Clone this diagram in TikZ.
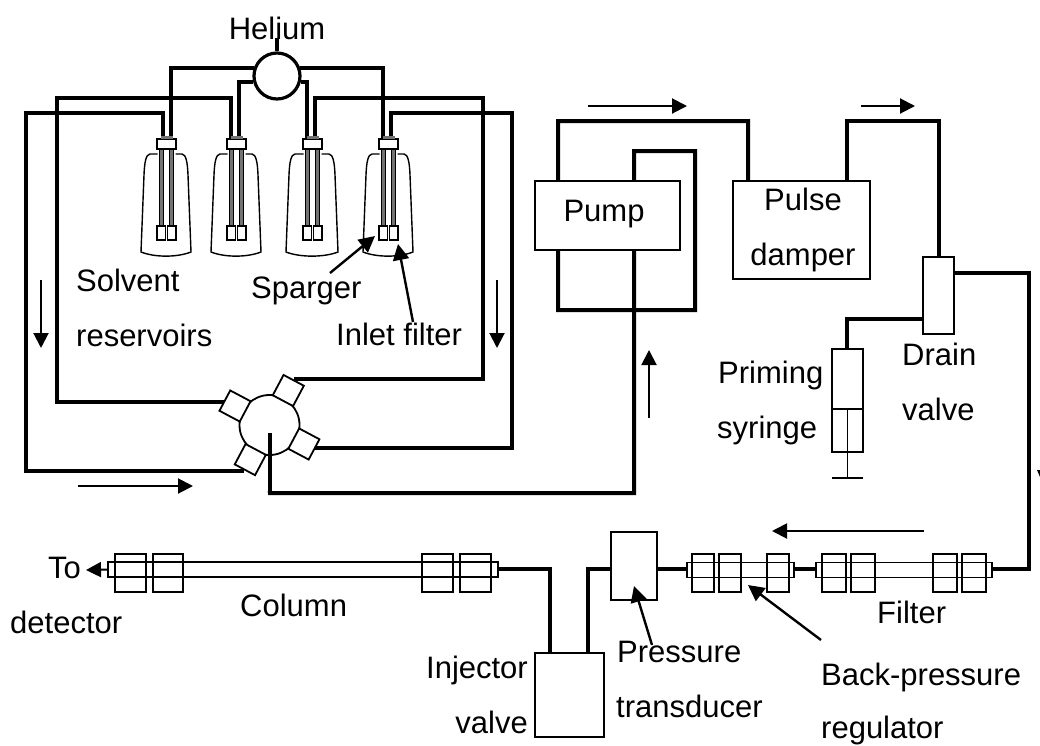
\documentclass[tikz,border=0pt]{standalone}
\usepackage{fontspec}
\setmainfont{Liberation Sans}
\usetikzlibrary{arrows.meta}
\pgfdeclarelayer{tubes}
\pgfsetlayers{tubes,main}
\tikzset{
  tube/.style={line width=4pt,line join=miter,line cap=butt},
  thin box/.style={draw=black,line width=1.8pt,inner sep=0pt,fill=white,rectangle},
  ferrule/.style={draw=black,line width=1.6pt,inner sep=0pt,rectangle,minimum height=38pt},
  ftube/.style={draw=black,line width=1.6pt,inner sep=0pt,rectangle,minimum height=15pt},
  port/.style={thin box,minimum width=23pt,minimum height=23pt,rotate=-28},
  flow/.style={line width=2pt,-{Triangle[length=15pt,width=15pt]}},
  pointer/.style={line width=2.4pt,-{Triangle[length=16pt,width=16pt]}},
  lab/.style={inner sep=0pt,font=\fontsize{31}{31}\selectfont},
  bottle/.style={line width=1.4pt},
}
\begin{document}
\begin{tikzpicture}[x=1pt,y=-1pt]
\useasboundingbox (0,0) rectangle (1040,745);
% --- boxes
\node[circle,draw=black,line width=3.2pt,inner sep=0pt,minimum size=46pt,fill=white] (hub) at (277,76) {};
\coordinate (heliumIn) at (277,38);
\node[thin box,minimum width=145pt,minimum height=69pt] (pump) at (607.5,215.5) {};
\node[thin box,minimum width=137pt,minimum height=98pt] (damper) at (801.5,230) {};
\node[thin box,minimum width=31pt,minimum height=77pt] (drain) at (938.5,295.5) {};
\node[thin box,minimum width=31pt,minimum height=103pt] (syringe) at (847.5,400.5) {};
\node[thin box,minimum width=69pt,minimum height=84pt] (injector) at (569.5,695) {};
\node[thin box,minimum width=46pt,minimum height=68pt] (transducer) at (634,566) {};
% --- bottles
\foreach \n/\cx/\ia/\ib/\bl/\br in {A/166.5/161/171/141/191,B/236.5/231/241/211/261,C/312.5/307/317/286/338,D/388.5/383/393/363/413}{
  \draw[bottle,fill=white] (\cx-9,154) -- (\bl+9,154) .. controls (\bl+5,154.5) and (\bl+3.5,162) .. (\bl+3,175)
     -- (\bl,252) .. controls (\bl+14,257.5) and (\br-14,257.5) .. (\br,252)
     -- (\br-3,175) .. controls (\br-3.5,162) and (\br-5,154.5) .. (\br-9,154) -- (\cx+9,154);
  \draw[line width=1pt,fill=black!55] (\ia-2,148) rectangle (\ia+2,226);
  \draw[line width=1pt,fill=black!55] (\ib-2,148) rectangle (\ib+2,226);
  \node[thin box,minimum width=19pt,minimum height=10pt] (cap\n) at (\cx,144) {};
  \fill[black!55] (\cx-6,136) rectangle (\cx+6,139);
  \node[thin box,minimum width=8.5pt,minimum height=13.5pt] (sp\n) at (\cx-5.2,233) {};
  \node[thin box,minimum width=8.5pt,minimum height=13.5pt] (fl\n) at (\cx+5.2,233) {};
}
% --- valve
\node[circle,draw=black,line width=1.8pt,inner sep=0pt,minimum size=60pt,fill=white] (valve) at (269.5,425) {};
\node[port] (p1) at (288.3,390.5) {};
\node[port] (p2) at (235,406) {};
\node[port] (p3) at (303.9,444) {};
\node[port] (p4) at (250.3,459.6) {};
% --- column, regulator, filter
\node[ftube,minimum width=390pt] (column) at (303,569.5) {};
\node[ferrule,minimum width=31pt] (c1) at (130.5,573) {};
\node[ferrule,minimum width=30pt] (c2) at (168,573) {};
\node[ferrule,minimum width=31pt] (c3) at (437.5,573) {};
\node[ferrule,minimum width=31pt] (c4) at (475.5,573) {};
\node[ftube,minimum width=107pt] (reg) at (740.5,570) {};
\node[ferrule,minimum width=22pt] (r1) at (703,573) {};
\node[ferrule,minimum width=22pt] (r2) at (730,573) {};
\node[ferrule,minimum width=22pt] (r3) at (778,573) {};
\node[ftube,minimum width=176pt] (filter) at (904,570) {};
\node[ferrule,minimum width=24pt] (f1) at (834,573) {};
\node[ferrule,minimum width=24pt] (f2) at (863,573) {};
\node[ferrule,minimum width=24pt] (f3) at (945,573) {};
\node[ferrule,minimum width=24pt] (f4) at (974,573) {};
% --- tubes behind everything
\begin{pgfonlayer}{tubes}
\fill[white] (0,0) rectangle (1040,745);
\draw[tube] (heliumIn) -- (hub.north);
\draw[tube] (hub.160) -| (capA.north -| 170.6,0);
\draw[tube] (hub.20) -| (capD.north -| 383,0);
\draw[tube] (hub.195) -| (capB.north -| 239,0);
\draw[tube] (hub.345) -| (capC.north -| 307,0);
\draw[tube] (capB.north -| 231,0) |- (57,98) |- (p2.west |- 0,402);
\draw[tube] (capA.north -| 163,0) |- (26,113) |- (p4.south |- 0,470.5);
\draw[tube] (capC.north -| 315,0) |- (483,98) |- (p1.north |- 0,379);
\draw[tube] (capD.north -| 391,0) |- (512,113) |- (p3.east |- 0,448);
\draw[tube] (valve.center |- 0,491) -- (270,493) -- (634,493) -- (634,151) -- (695,151) -- (695,310) -- (558,310) -- (558,121) -- (748,121) -- (damper.north -| 748,0);
\draw[tube] (damper.north -| 847,0) |- (939,121) -- (drain.north -| 939,0);
\draw[tube] (drain.east |- 0,273) -| (1029,569) -- (filter.east |- 0,569);
\draw[tube] (drain.west |- 0,319) -| (syringe.north -| 847,0);
\draw[tube] (column.east |- 0,569) -| (injector.north -| 550,0);
\draw[tube] (injector.north -| 588,0) |- (transducer.west |- 0,569);
\draw[tube] (transducer.east |- 0,569) -- (reg.west |- 0,569);
\draw[tube] (reg.east |- 0,569) -- (filter.west |- 0,569);
\end{pgfonlayer}
% valve outlet, on top of the rotor
\coordinate (valveOut) at (270,433);
\draw[line width=3.4pt] (valveOut) -- (270,494.5);
% --- syringe plunger
\coordinate (plungerTop) at (832,409);
\draw[line width=1.8pt] (syringe.west |- plungerTop) -- (syringe.east |- plungerTop);
\draw[line width=1.8pt] (847.5,409) -- (847.5,478);
\draw[line width=1.8pt] (832,478) -- (863,478);
% --- flow arrows
\draw[flow] (78,486) -- (193,486);
\draw[flow] (41,280) -- (41,348);
\draw[flow] (497,280) -- (497,348);
\draw[flow] (649,418) -- (649,350);
\draw[flow] (588,106) -- (687,106);
\draw[flow] (861,106) -- (915,106);
\draw[flow] (924,531) -- (772,531);
\fill (1037,470) -- (1040,470) -- (1040,477) -- cycle;
% --- labels
\node[lab,anchor=base] (lHelium) at (277,39) {Helium};
\node[lab,anchor=base] (lPump) at (604,221) {Pump};
\node[lab,anchor=base] (lPulse) at (803,210) {Pulse};
\node[lab,anchor=base] (lDamper) at (803,265) {damper};
\node[lab,anchor=base west] (lSolvent) at (76,291) {Solvent};
\node[lab,anchor=base west] (lRes) at (76,346) {reservoirs};
\node[lab,anchor=base west] (lSparger) at (251,298) {Sparger};
\node[lab,anchor=base west] (lInlet) at (336,345) {Inlet filter};
\node[lab,anchor=base west] (lPriming) at (718,383) {Priming};
\node[lab,anchor=base west] (lSyringe) at (717,438) {syringe};
\node[lab,anchor=base west] (lDrain) at (902,365) {Drain};
\node[lab,anchor=base west] (lValve) at (902,420) {valve};
\node[lab,anchor=base west] (lTo) at (48,578) {To};
\node[lab,anchor=base west] (lDet) at (10,633) {detector};
\node[lab,anchor=base west] (lColumn) at (240,616) {Column};
\node[lab,anchor=base west] (lFilter) at (877,623) {Filter};
\node[lab,anchor=base east] (lInj) at (528,678) {Injector};
\node[lab,anchor=base east] (lInjV) at (528,733) {valve};
\node[lab,anchor=base west] (lPress) at (617,662) {Pressure};
\node[lab,anchor=base west] (lTrans) at (616,717) {transducer};
\node[lab,anchor=base west] (lBack) at (821,685) {Back-pressure};
\node[lab,anchor=base west] (lReg) at (821,738) {regulator};
% --- pointers
\coordinate (tSparger) at (330,273); \coordinate (hSparger) at (375,236);
\coordinate (tInlet) at (413,322); \coordinate (hInlet) at (398,244);
\coordinate (tPress) at (652,645); \coordinate (hPress) at (634,586);
\coordinate (tBack) at (821,640); \coordinate (hBack) at (748,585);
\draw[pointer] (tSparger) -- (hSparger);
\draw[pointer] (tInlet) -- (hInlet);
\draw[pointer] (tPress) -- (hPress);
\draw[pointer] (tBack) -- (hBack);
\draw[flow] (column.west) -- (86,570);
\end{tikzpicture}
\end{document}
